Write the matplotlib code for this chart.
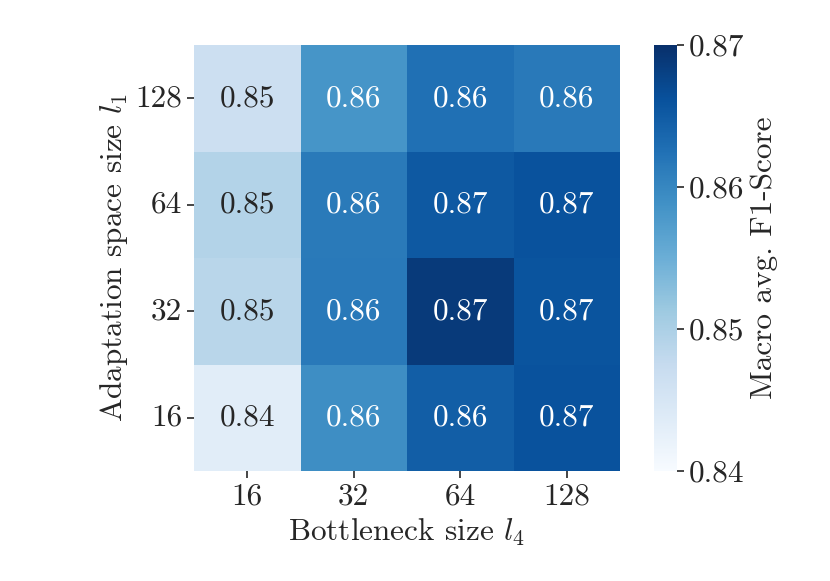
import numpy as np
import matplotlib
matplotlib.use("Agg")
import matplotlib.pyplot as plt
import seaborn as sns

sns.set_style("ticks")
plt.rcParams['font.family'] = 'serif'
plt.rcParams['font.serif'] = ['cmr10']
plt.rcParams['mathtext.fontset'] = 'cm'
plt.rcParams['axes.unicode_minus'] = False
plt.rcParams['axes.formatter.use_mathtext'] = True

bottleneck = ["16", "32", "64", "128"]
adaptation = ["128", "64", "32", "16"]
f1_row128 = [0.8466, 0.8583, 0.8625, 0.8616]
f1_row64 = [0.8493, 0.8615, 0.8652, 0.8661]
f1_row32 = [0.8487, 0.8616, 0.8688, 0.8658]
f1_row16 = [0.8433, 0.8592, 0.8647, 0.8661]
data = np.array([f1_row128, f1_row64, f1_row32, f1_row16])

fs = 22.5
fig = plt.figure(figsize=(8.3, 5.81), dpi=100)
ax = fig.add_axes([194/830, 110/581, 426/830, 426/581])
cax = fig.add_axes([654/830, 110/581, 23/830, 426/581])

sns.heatmap(data, ax=ax, cbar_ax=cax, cmap="Blues", vmin=0.84, vmax=0.87,
            annot=True, fmt=".2f", annot_kws={"fontsize": fs},
            xticklabels=bottleneck, yticklabels=adaptation,
            cbar_kws={"label": "Macro avg. F1-Score", "ticks": [0.84, 0.85, 0.86, 0.87]})

ax.set_xlabel(r"Bottleneck size $l_4$", fontsize=fs)
ax.set_ylabel(r"Adaptation space size $l_1$", fontsize=fs)
ax.tick_params(axis='both', labelsize=fs, length=5, width=1.2)
ax.set_yticklabels(adaptation, rotation=0)
cax.tick_params(labelsize=fs, length=5, width=1.2)
cax.set_yticklabels(["0.84", "0.85", "0.86", "0.87"])
cax.yaxis.label.set_size(fs)

fig.savefig("out.png", dpi=100)
